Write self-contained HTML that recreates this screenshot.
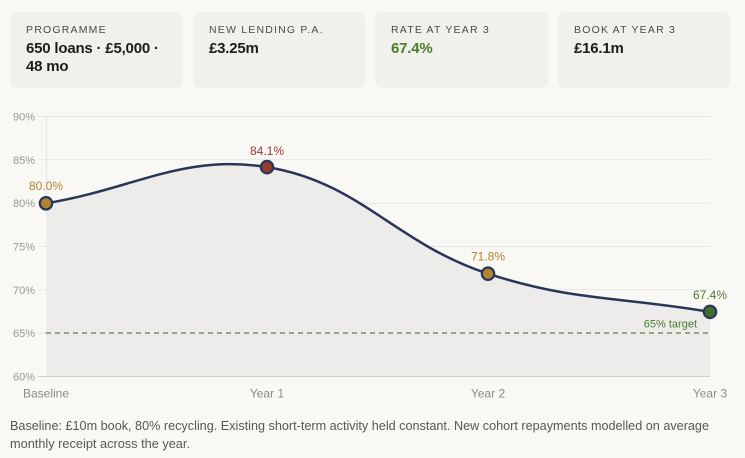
<!DOCTYPE html>
<html><head><meta charset="utf-8"><style>
*{margin:0;padding:0;box-sizing:border-box}
html,body{width:745px;height:458px;overflow:hidden;background:#f9f8f5;font-family:"Liberation Sans",Arial,sans-serif}
.card{position:absolute;top:12px;height:76px;background:#f1f1ec;border-radius:7px}
.lab{position:absolute;left:16px;top:12px;font-size:10.5px;line-height:13px;letter-spacing:1.2px;color:#4a4a4a;white-space:nowrap}
.val{position:absolute;left:16px;top:28px;font-size:15px;line-height:17.5px;font-weight:bold;letter-spacing:-0.2px;color:#1c1c1c;white-space:nowrap}
svg{position:absolute;left:0;top:0}
</style></head><body>
<div class="card" style="left:10px;width:173px"><div class="lab">PROGRAMME</div><div class="val">650 loans · £5,000 ·<br>48 mo</div></div>
<div class="card" style="left:193px;width:172px"><div class="lab">NEW LENDING P.A.</div><div class="val">£3.25m</div></div>
<div class="card" style="left:375px;width:173px"><div class="lab">RATE AT YEAR 3</div><div class="val" style="color:#4a7a2e">67.4%</div></div>
<div class="card" style="left:558px;width:172px"><div class="lab">BOOK AT YEAR 3</div><div class="val">£16.1m</div></div>
<svg width="745" height="458" viewBox="0 0 745 458" font-family="Liberation Sans, Arial, sans-serif">
<g stroke="#e7e5e1" stroke-width="1">
<line x1="38" y1="116.5" x2="710" y2="116.5"/>
<line x1="38" y1="159.8" x2="710" y2="159.8"/>
<line x1="38" y1="203.2" x2="710" y2="203.2"/>
<line x1="38" y1="246.5" x2="710" y2="246.5"/>
<line x1="38" y1="289.8" x2="710" y2="289.8"/>
<line x1="38" y1="333.2" x2="46" y2="333.2"/>
<line x1="46.5" y1="116" x2="46.5" y2="376"/>
</g>
<path d="M46,203.3 C134.4,188.8 182.7,153.7 267,167.1 C359.5,181.8 395.6,243.5 488,273.7 C572.8,301.4 621.2,296.6 710,311.9 L710,376 L46,376 Z" fill="#edecea"/>
<line x1="38" y1="376.5" x2="710" y2="376.5" stroke="#d0cecb" stroke-width="1"/>
<line x1="46" y1="333" x2="710" y2="333" stroke="#5b7f45" stroke-width="1.3" stroke-dasharray="5,4"/>
<path d="M46,203.3 C134.4,188.8 182.7,153.7 267,167.1 C359.5,181.8 395.6,243.5 488,273.7 C572.8,301.4 621.2,296.6 710,311.9" fill="none" stroke="#2a3659" stroke-width="2.5"/>
<g stroke="#2a3659" stroke-width="2.2">
<circle cx="46" cy="203.3" r="6.2" fill="#b4832f"/>
<circle cx="267" cy="167.1" r="6.2" fill="#963a30"/>
<circle cx="488" cy="273.7" r="6.2" fill="#b4832f"/>
<circle cx="710" cy="311.9" r="6.2" fill="#3f6e2a"/>
</g>
<g font-size="11" fill="#9a9893" text-anchor="end">
<text x="35" y="120.5">90%</text>
<text x="35" y="163.8">85%</text>
<text x="35" y="207.2">80%</text>
<text x="35" y="250.5">75%</text>
<text x="35" y="293.8">70%</text>
<text x="35" y="337.2">65%</text>
<text x="35" y="380.5">60%</text>
</g>
<g font-size="12" fill="#8c8a86" text-anchor="middle">
<text x="46" y="397.5">Baseline</text>
<text x="267" y="397.5">Year 1</text>
<text x="488" y="397.5">Year 2</text>
<text x="710" y="397.5">Year 3</text>
</g>
<g font-size="12" text-anchor="middle">
<text x="46" y="190" fill="#b4832f">80.0%</text>
<text x="267" y="155" fill="#963a30">84.1%</text>
<text x="488" y="260.5" fill="#b4832f">71.8%</text>
<text x="710" y="299" fill="#4a7a2e">67.4%</text>
</g>
<text x="697" y="327.5" font-size="11" fill="#4a7a2e" text-anchor="end">65% target</text>
<g font-size="12.5" fill="#585753">
<text x="10" y="430" textLength="699" lengthAdjust="spacingAndGlyphs">Baseline: £10m book, 80% recycling. Existing short-term activity held constant. New cohort repayments modelled on average</text>
<text x="10" y="448" textLength="180" lengthAdjust="spacingAndGlyphs">monthly receipt across the year.</text>
</g>
</svg>
</body></html>
